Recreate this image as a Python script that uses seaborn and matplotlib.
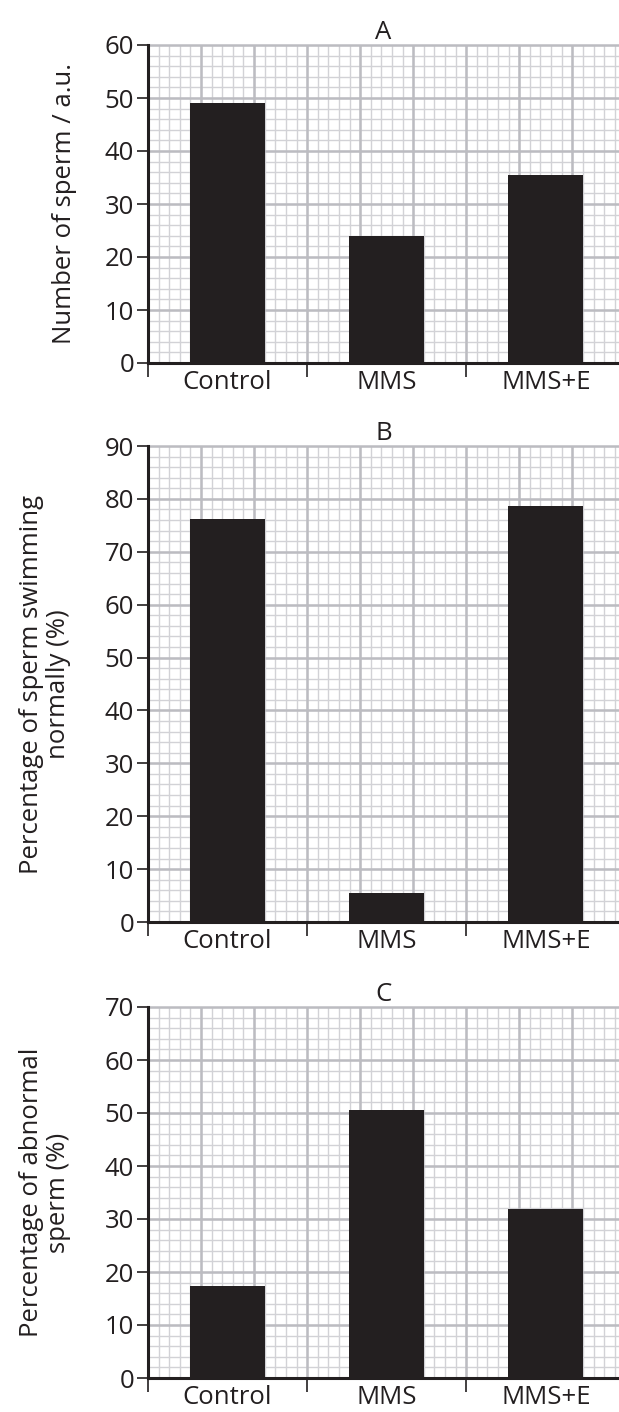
import numpy as np
import seaborn as sns
import matplotlib.pyplot as plt

# data
groups = ["Control", "MMS", "MMS+E"]
sperm_count = [49.1, 24.0, 35.5]
swimming_normally = [76.2, 5.5, 78.7]
abnormal = [17.4, 50.5, 31.9]

panel_titles = ["A", "B", "C"]
y_labels = ["Number of sperm / a.u.",
            "Percentage of sperm swimming\nnormally (%)",
            "Percentage of abnormal\nsperm (%)"]
y_max = [60, 90, 70]
label_pads = [20, 24, 24]

sns.set_theme(style="white")
plt.rcParams['font.family'] = ['Open Sans', 'DejaVu Sans']

fig = plt.figure(figsize=(6.19, 14.12), dpi=100)
H = 1412
# top / bottom of each plot area in pixels
boxes = [(45, 363), (446, 922), (1007, 1378)]

bar_color = "#231f20"
major_c = "#bcbcc1"
minor_c = "#d2d2d6"
fs = 18.5

for i, values in enumerate([sperm_count, swimming_normally, abnormal]):
    top, bot = boxes[i]
    ax = fig.add_axes([148 / 619, 1 - bot / H, 471 / 619, (bot - top) / H])
    sns.barplot(x=groups, y=values, color=bar_color, saturation=1,
                width=0.47, ax=ax, zorder=3, linewidth=0)
    ax.set_xlim(-0.5, 2.46)
    ax.set_ylim(0, y_max[i])

    # graph-paper grid
    for x in np.arange(-0.5, 2.5, 1 / 15):
        ax.axvline(x, color=minor_c, lw=1.0, zorder=0)
    for x in np.arange(-0.5, 2.5, 1 / 3):
        ax.axvline(x, color=major_c, lw=1.8, zorder=1)
    for y in np.arange(0, y_max[i] + 0.1, 2):
        ax.axhline(y, color=minor_c, lw=1.0, zorder=0)
    for y in np.arange(0, y_max[i] + 0.1, 10):
        ax.axhline(y, color=major_c, lw=1.8, zorder=1, clip_on=False)

    # ticks: boundaries get marks, labels sit in the middle
    ax.set_yticks(np.arange(0, y_max[i] + 1, 10))
    ax.set_xticks([-0.5, 0.5, 1.5])
    ax.set_xticklabels([])
    ax.set_xticks([0, 1, 2], minor=True)
    ax.set_xticklabels(groups, minor=True)
    ax.tick_params(axis="x", which="major", direction="out", length=10,
                   width=1.2, color="#231f20", bottom=True)
    ax.tick_params(axis="x", which="minor", length=0, pad=5,
                   labelsize=fs, labelcolor="#231f20")
    ax.tick_params(axis="y", direction="out", length=8, width=1.2,
                   color="#231f20", left=True, labelsize=fs,
                   labelcolor="#231f20", pad=2)

    for s in ["top", "right"]:
        ax.spines[s].set_visible(False)
    for s in ["left", "bottom"]:
        ax.spines[s].set_color("#231f20")
        ax.spines[s].set_linewidth(2.2)
        ax.spines[s].set_zorder(5)

    ax.set_xlabel("")
    ax.set_ylabel(y_labels[i], fontsize=fs, color="#231f20",
                  linespacing=1.1, labelpad=label_pads[i])
    ax.set_title(panel_titles[i], fontsize=fs, color="#231f20", pad=4)

fig.savefig("out.png", dpi=100)
